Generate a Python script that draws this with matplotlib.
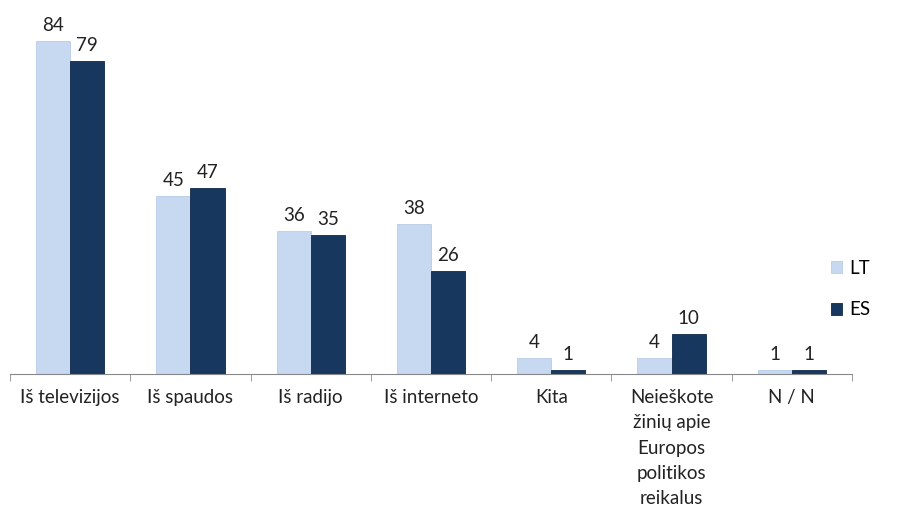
import matplotlib
matplotlib.use("Agg")
import matplotlib.pyplot as plt
import numpy as np

plt.rcParams['font.family'] = ['Lato', 'DejaVu Sans']

categories = ["Iš televizijos", "Iš spaudos", "Iš radijo", "Iš interneto", "Kita",
              "Neieškote\nžinių apie\nEuropos\npolitikos\nreikalus", "N / N"]
lt_values = [84, 45, 36, 38, 4, 4, 1]
es_values = [79, 47, 35, 26, 1, 10, 1]
series_names = ["LT", "ES"]

W, H = 921, 508
fig = plt.figure(figsize=(W / 100, H / 100), dpi=100)
ax_left, ax_right = 10, 852
ax_bottom, ax_top = 374, 10
ax = fig.add_axes([ax_left / W, 1 - ax_bottom / H, (ax_right - ax_left) / W, (ax_bottom - ax_top) / H])

x = np.arange(len(categories))
bw = 34 / 120
c_lt = '#C6D9F1'
c_es = '#17375E'
b1 = ax.bar(x - bw / 2, lt_values, bw, color=c_lt, edgecolor='#B9CDE8', linewidth=0.6, label=series_names[0])
b2 = ax.bar(x + bw / 2, es_values, bw, color=c_es, edgecolor='#10294A', linewidth=0.6, label=series_names[1])

fs = 13.5
for rects, vals in ((b1, lt_values), (b2, es_values)):
    for r, v in zip(rects, vals):
        ax.annotate(str(v), (r.get_x() + r.get_width() / 2, v), xytext=(0, 5),
                    textcoords='offset points', ha='center', va='bottom', fontsize=fs, color='#222222')

ax.set_xlim(-0.5, len(categories) - 0.5)
ax.set_ylim(0, (ax_bottom - ax_top) / 3.96)
for s in ['top', 'right', 'left']:
    ax.spines[s].set_visible(False)
ax.spines['bottom'].set_color('#888888')
ax.set_yticks([])
ax.set_xticks(np.arange(len(categories) + 1) - 0.5, minor=True)
ax.set_xticks(x)
ax.set_xticklabels(categories, fontsize=fs, color='#222222', linespacing=1.58)
ax.tick_params(axis='x', which='major', length=0, pad=11)
ax.tick_params(axis='x', which='minor', length=5, color='#888888')

leg = ax.legend(handles=[b1, b2], loc='center left', bbox_to_anchor=(831 / W, 1 - 289 / H),
                bbox_transform=fig.transFigure, frameon=False, fontsize=fs,
                handlelength=0.6, handleheight=0.6, handletextpad=0.35, labelspacing=1.3,
                borderaxespad=0, borderpad=0)

fig.savefig("out.png", dpi=100)
